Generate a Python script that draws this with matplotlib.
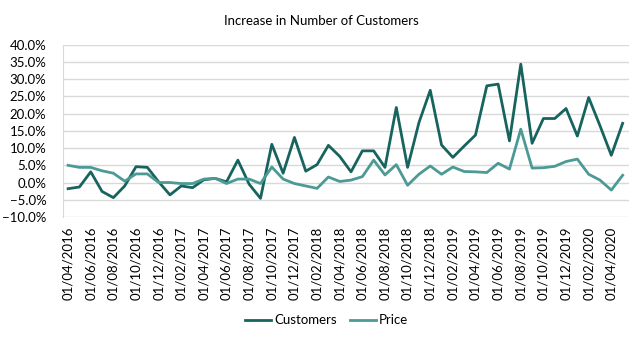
import numpy as np
import pandas as pd
import matplotlib
matplotlib.use("Agg")
import matplotlib.pyplot as plt
from matplotlib.ticker import PercentFormatter

plt.rcParams['font.family'] = ['Lato', 'DejaVu Sans']

## Monthly series, April 2016 to May 2020 (percent)
months = pd.date_range("2016-04-01", periods=50, freq="MS")
customers = [-1.8, -1.3, 3.1, -2.6, -4.4, -1.0, 4.6, 4.4, 0.2, -3.6,
             -1.0, -1.5, 0.8, 1.2, 0.2, 6.5, -0.5, -4.6, 11.1, 2.7,
             13.1, 3.3, 5.2, 10.8, 7.6, 3.1, 9.2, 9.2, 4.4, 21.8,
             4.4, 17.4, 26.8, 10.9, 7.3, 10.6, 13.8, 28.1, 28.6, 12.1,
             34.4, 11.4, 18.6, 18.6, 21.5, 13.5, 24.7, 16.5, 7.9, 17.2]
price = [5.0, 4.4, 4.4, 3.4, 2.7, 0.4, 2.5, 2.5, 0.0, 0.0,
         -0.3, -0.3, 1.0, 1.2, -0.3, 1.0, 1.0, -0.3, 4.5, 1.0,
         -0.3, -1.0, -1.7, 1.6, 0.3, 0.7, 1.7, 6.5, 2.2, 5.2,
         -0.8, 2.4, 4.8, 2.4, 4.5, 3.2, 3.1, 2.9, 5.6, 3.9,
         15.5, 4.2, 4.3, 4.7, 6.1, 6.8, 2.4, 0.7, -2.2, 2.1]
tick_labels = [d.strftime("%d/%m/%Y") for d in months]

dark = "#17645f"
light = "#4b9a95"
grid = "#d9d9d9"

fig = plt.figure(figsize=(6.43, 3.40), dpi=100)
ax = fig.add_axes([0.098, 0.362, 0.880, 0.506])

x = np.arange(len(months))
ax.plot(x, customers, color=dark, lw=2.0, label="Customers", solid_joinstyle="round")
ax.plot(x, price, color=light, lw=2.0, label="Price", solid_joinstyle="round")

ax.set_ylim(-10, 40)
ax.set_yticks(np.arange(-10, 41, 5))
ax.yaxis.set_major_formatter(PercentFormatter(decimals=1))
ax.set_xlim(-0.45, 49.55)
ax.set_xticks(x[::2])
ax.set_xticklabels(tick_labels[::2], rotation=90)

ax.grid(axis="y", color=grid, lw=1)
ax.set_axisbelow(True)
for s in ["top", "right", "bottom"]:
    ax.spines[s].set_visible(False)
ax.spines["left"].set_color(grid)
ax.tick_params(length=0, labelsize=9.5, colors="#000000")
ax.tick_params(axis="y", pad=12)
ax.tick_params(axis="x", pad=7)

fig.suptitle("Increase in Number of Customers", y=0.955, fontsize=9.5)
fig.legend(loc="center", bbox_to_anchor=(0.508, 0.058), ncol=2, frameon=False,
           fontsize=9.5, handlelength=2.0, handletextpad=0.2, columnspacing=1.0)

fig.savefig("out.png", dpi=100)
